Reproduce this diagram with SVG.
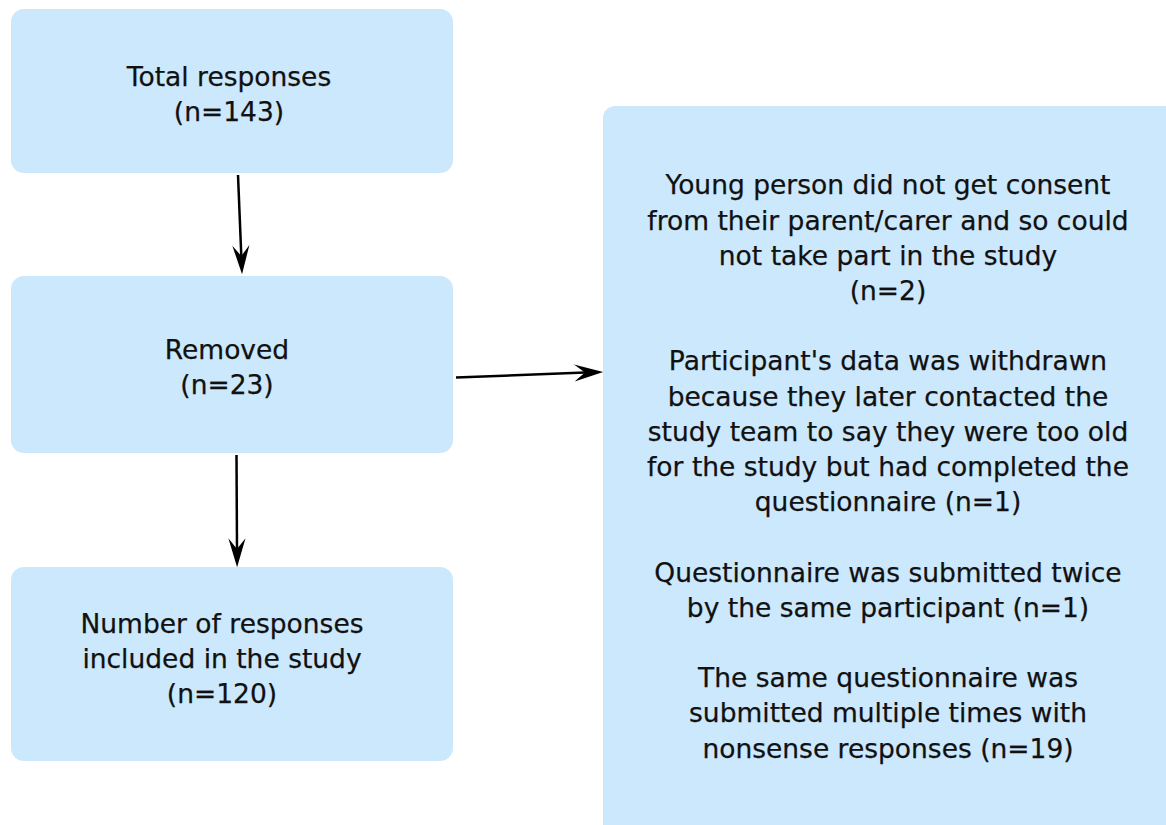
<svg xmlns="http://www.w3.org/2000/svg" width="1166" height="825" viewBox="0 0 1166 825">
  <style>
    .box { fill: #cce8fd; }
    .lbl { font-family: "DejaVu Sans", "Liberation Sans", sans-serif; font-size: 26.5px; fill: #111111; text-anchor: middle; stroke: #111111; stroke-width: 0.25; }
    .edge { stroke: #000000; stroke-width: 2.5; fill: none; }
  </style>
  <defs>
    <marker id="arrow" markerUnits="userSpaceOnUse" markerWidth="30" markerHeight="20" refX="10" refY="0" viewBox="0 -9 28 18" orient="auto" overflow="visible">
      <path d="M27,0 L0,-8 L10,0 L0,8 Z" fill="#000000"/>
    </marker>
  </defs>
  <rect width="1166" height="825" fill="#ffffff"/>

  <g id="node-total">
    <rect class="box" x="11" y="9" width="442" height="164" rx="13"/>
    <text class="lbl" x="229" y="85.7">Total responses</text>
    <text class="lbl" x="229" y="120.7">(n=143)</text>
  </g>

  <g id="node-removed">
    <rect class="box" x="11" y="276" width="442" height="177" rx="13"/>
    <text class="lbl" x="227" y="359.3">Removed</text>
    <text class="lbl" x="227" y="394.3">(n=23)</text>
  </g>

  <g id="node-included">
    <rect class="box" x="11" y="567" width="442" height="194" rx="13"/>
    <text class="lbl" x="222" y="632.7">Number of responses</text>
    <text class="lbl" x="222" y="667.9">included in the study</text>
    <text class="lbl" x="222" y="703">(n=120)</text>
  </g>

  <g id="node-reasons">
    <rect class="box" x="603" y="106" width="580" height="740" rx="12"/>
    <text class="lbl" x="888" y="194.3">Young person did not get consent</text>
    <text class="lbl" x="888" y="229.5">from their parent/carer and so could</text>
    <text class="lbl" x="888" y="264.7">not take part in the study</text>
    <text class="lbl" x="888" y="299.9">(n=2)</text>
    <text class="lbl" x="888" y="370.3">Participant's data was withdrawn</text>
    <text class="lbl" x="888" y="405.5">because they later contacted the</text>
    <text class="lbl" x="888" y="440.7">study team to say they were too old</text>
    <text class="lbl" x="888" y="475.9">for the study but had completed the</text>
    <text class="lbl" x="888" y="511.1">questionnaire (n=1)</text>
    <text class="lbl" x="888" y="581.5">Questionnaire was submitted twice</text>
    <text class="lbl" x="888" y="616.7">by the same participant (n=1)</text>
    <text class="lbl" x="888" y="687.1">The same questionnaire was</text>
    <text class="lbl" x="888" y="722.3">submitted multiple times with</text>
    <text class="lbl" x="888" y="757.5">nonsense responses (n=19)</text>
  </g>

  <g id="connectors">
    <line class="edge" x1="238" y1="175" x2="241.3" y2="256" marker-end="url(#arrow)"/>
    <line class="edge" x1="236.5" y1="455" x2="237" y2="549" marker-end="url(#arrow)"/>
    <line class="edge" x1="456" y1="377.5" x2="585" y2="372.6" marker-end="url(#arrow)"/>
  </g>
</svg>
